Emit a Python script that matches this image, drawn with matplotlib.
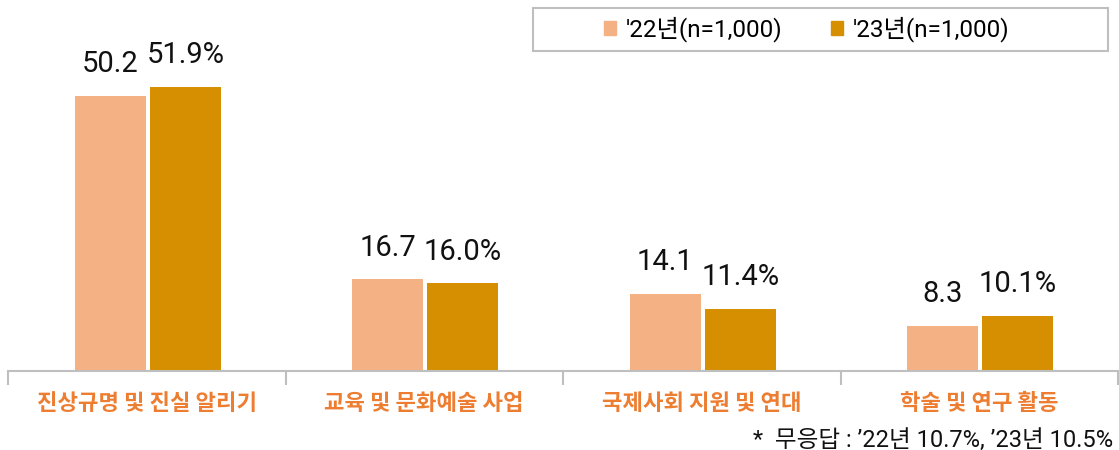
import matplotlib
matplotlib.use("Agg")
from matplotlib import pyplot as plt
from matplotlib.patches import Patch, Rectangle
import numpy as np

categories = ["진상규명 및 진실 알리기", "교육 및 문화예술 사업", "국제사회 지원 및 연대", "학술 및 연구 활동"]
vals_22 = [50.2, 16.7, 14.1, 8.3]
vals_23 = [51.9, 16.0, 11.4, 10.1]
series_names = ["'22년(n=1,000)", "'23년(n=1,000)"]
note = "*  무응답 : \u201922년 10.7%, \u201923년 10.5%"

c22 = "#F4B183"
c23 = "#D58F00"
fam = ["Roboto", "Noto Sans CJK KR", "DejaVu Sans"]
plt.rcParams["font.family"] = fam

W, H = 1119, 450
fig = plt.figure(figsize=(W / 100, H / 100), dpi=100)
ax = fig.add_axes([8 / W, 79 / H, 1110 / W, 371 / H])

x = np.arange(len(categories))
w = 0.256
b1 = ax.bar(x - 0.1315, vals_22, w, color=c22)
b2 = ax.bar(x + 0.139, vals_23, w, color=c23)

for r, v in zip(b1, vals_22):
    ax.text(r.get_x() + r.get_width() / 2, v + 3.2, f"{v:.1f}", ha="center", va="bottom",
            fontsize=21, color="#111111")
for r, v in zip(b2, vals_23):
    ax.text(r.get_x() + r.get_width() / 2, v + 3.2, f"{v:.1f}%", ha="center", va="bottom",
            fontsize=21, color="#111111")

ax.set_xlim(-0.5, len(categories) - 0.5)
ax.set_ylim(0, 67.7)
for s in ["top", "right", "left"]:
    ax.spines[s].set_visible(False)
ax.spines["bottom"].set_color("#BFBFBF")
ax.spines["bottom"].set_linewidth(1.5)
ax.set_yticks([])
ax.set_xticks(np.arange(-0.5, len(categories)))
ax.set_xticklabels([])
ax.tick_params(axis="x", length=10, width=1.5, color="#BFBFBF")
for i, c in enumerate(categories):
    ax.text(i, -5.9, c, ha="center", va="center", fontsize=16, color="#ED7D31",
            fontweight="bold", family=["Noto Sans CJK KR", "DejaVu Sans"])

# legend frame
fig.patches.append(Rectangle((533 / W, 1 - 51 / H), 575 / W, 43 / H, transform=fig.transFigure,
                             facecolor="white", edgecolor="#BFBFBF", linewidth=1.5))
handles = [Patch(color=c22), Patch(color=c23)]
leg = fig.legend(handles, series_names, loc="center left", bbox_to_anchor=(604 / W, 1 - 29.5 / H),
                 ncol=2, fontsize=17.5, frameon=False, handlelength=0.5,
                 handleheight=0.5, columnspacing=2.0, handletextpad=0.4,
                 borderpad=0, borderaxespad=0)

fig.text(1113 / W, 1 - 440 / H, note, ha="right", va="center", fontsize=17,
         color="#111111")

fig.savefig("out.png", dpi=100)
